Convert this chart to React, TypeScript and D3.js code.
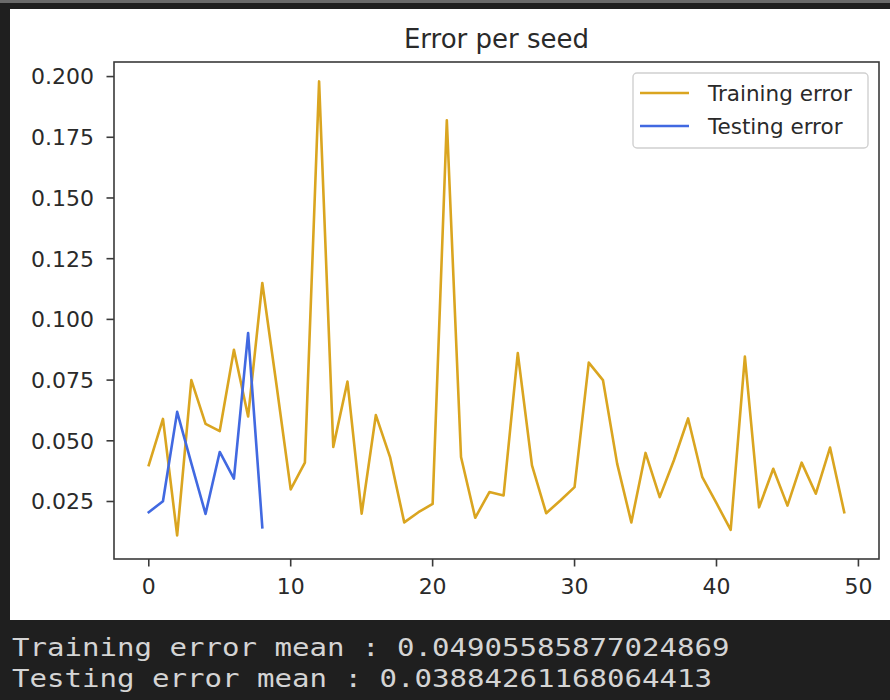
import React from 'react';
import * as d3 from 'd3';

const trainingError = [
  0.040, 0.059, 0.011, 0.075, 0.057, 0.054, 0.0875, 0.060, 0.115, 0.073,
  0.030, 0.041, 0.198, 0.0475, 0.0744, 0.020, 0.0606, 0.0433, 0.0164, 0.0206,
  0.024, 0.182, 0.0433, 0.0183, 0.0289, 0.0275, 0.0861, 0.0399, 0.0202, 0.0254,
  0.0309, 0.0822, 0.075, 0.0406, 0.0164, 0.045, 0.0268, 0.042, 0.0592, 0.035,
  0.0243, 0.0133, 0.0847, 0.0226, 0.0385, 0.0233, 0.041, 0.0282, 0.0472, 0.0206,
];
const testingError = [0.0206, 0.0251, 0.0619, 0.0407, 0.0199, 0.0454, 0.0344, 0.0944, 0.0144];

const xTicks = [0, 10, 20, 30, 40, 50];
const yTicks = [0.025, 0.05, 0.075, 0.1, 0.125, 0.15, 0.175, 0.2];
const seriesNames = ['Training error', 'Testing error'];
const seriesColors = ['#DAA520', '#4169E1'];
const title = 'Error per seed';
const outputLines = [
  'Training error mean : 0.04905585877024869',
  'Testing error mean : 0.03884261168064413',
];

const W = 890;
const H = 700;
const plot = { left: 114, right: 879, top: 62, bottom: 559 };

export default function App() {
  const x = d3.scaleLinear().domain([-2.45, 51.45]).range([plot.left, plot.right]);
  const y = d3.scaleLinear().domain([0.00132, 0.206]).range([plot.bottom, plot.top]);
  const line = d3
    .line<number>()
    .x((_, i) => x(i))
    .y((d) => y(d));
  const series = [trainingError, testingError];
  const font = 'DejaVu Sans, sans-serif';
  const axisColor = '#3a3a3a';
  const textColor = '#2a2a2a';

  return (
    <svg
      width={W}
      height={H}
      style={{ position: 'absolute', left: 0, top: 0, display: 'block' }}
    >
      <rect x={0} y={0} width={W} height={H} fill="#1f1f1f" />
      <rect x={0} y={0} width={W} height={3} fill="#6a6a6a" />
      <rect x={10} y={9} width={W - 10} height={611} fill="#ffffff" />

      <text
        x={(plot.left + plot.right) / 2}
        y={48}
        textAnchor="middle"
        fontFamily={font}
        fontSize={26}
        fill={textColor}
      >
        {title}
      </text>

      <defs>
        <clipPath id="plotclip">
          <rect x={plot.left} y={plot.top} width={plot.right - plot.left} height={plot.bottom - plot.top} />
        </clipPath>
      </defs>

      <g clipPath="url(#plotclip)">
        {series.map((s, k) => (
          <path
            key={k}
            d={line(s) || ''}
            fill="none"
            stroke={seriesColors[k]}
            strokeWidth={2.6}
            strokeLinejoin="round"
            strokeLinecap="square"
          />
        ))}
      </g>

      <rect
        x={plot.left}
        y={plot.top}
        width={plot.right - plot.left}
        height={plot.bottom - plot.top}
        fill="none"
        stroke={axisColor}
        strokeWidth={1.6}
      />

      {yTicks.map((t) => (
        <g key={'y' + t}>
          <line x1={plot.left - 7.5} x2={plot.left} y1={y(t)} y2={y(t)} stroke={axisColor} strokeWidth={1.6} />
          <text
            x={plot.left - 20}
            y={y(t)}
            dy="0.36em"
            textAnchor="end"
            fontFamily={font}
            fontSize={22}
            fill={textColor}
          >
            {t.toFixed(3)}
          </text>
        </g>
      ))}

      {xTicks.map((t) => (
        <g key={'x' + t}>
          <line x1={x(t)} x2={x(t)} y1={plot.bottom} y2={plot.bottom + 7.5} stroke={axisColor} strokeWidth={1.6} />
          <text
            x={x(t)}
            y={594}
            textAnchor="middle"
            fontFamily={font}
            fontSize={22}
            fill={textColor}
          >
            {t}
          </text>
        </g>
      ))}

      <g>
        <rect x={633} y={73} width={235} height={75} rx={4} fill="#ffffff" stroke="#d0d0d0" strokeWidth={1.4} />
        {seriesNames.map((name, k) => (
          <g key={name}>
            <line x1={640} x2={689} y1={93 + k * 33} y2={93 + k * 33} stroke={seriesColors[k]} strokeWidth={2.6} />
            <text
              x={708}
              y={93 + k * 33}
              dy="0.36em"
              fontFamily={font}
              fontSize={21.5}
              fill={textColor}
            >
              {name}
            </text>
          </g>
        ))}
      </g>

      {outputLines.map((l, i) => (
        <text
          key={i}
          x={12}
          y={656 + i * 31}
          fontFamily="DejaVu Sans Mono, monospace"
          fontSize={25}
          fill="#d4d4d4"
          textLength={17.5 * l.length}
          lengthAdjust="spacingAndGlyphs"
        >
          {l}
        </text>
      ))}
    </svg>
  );
}
